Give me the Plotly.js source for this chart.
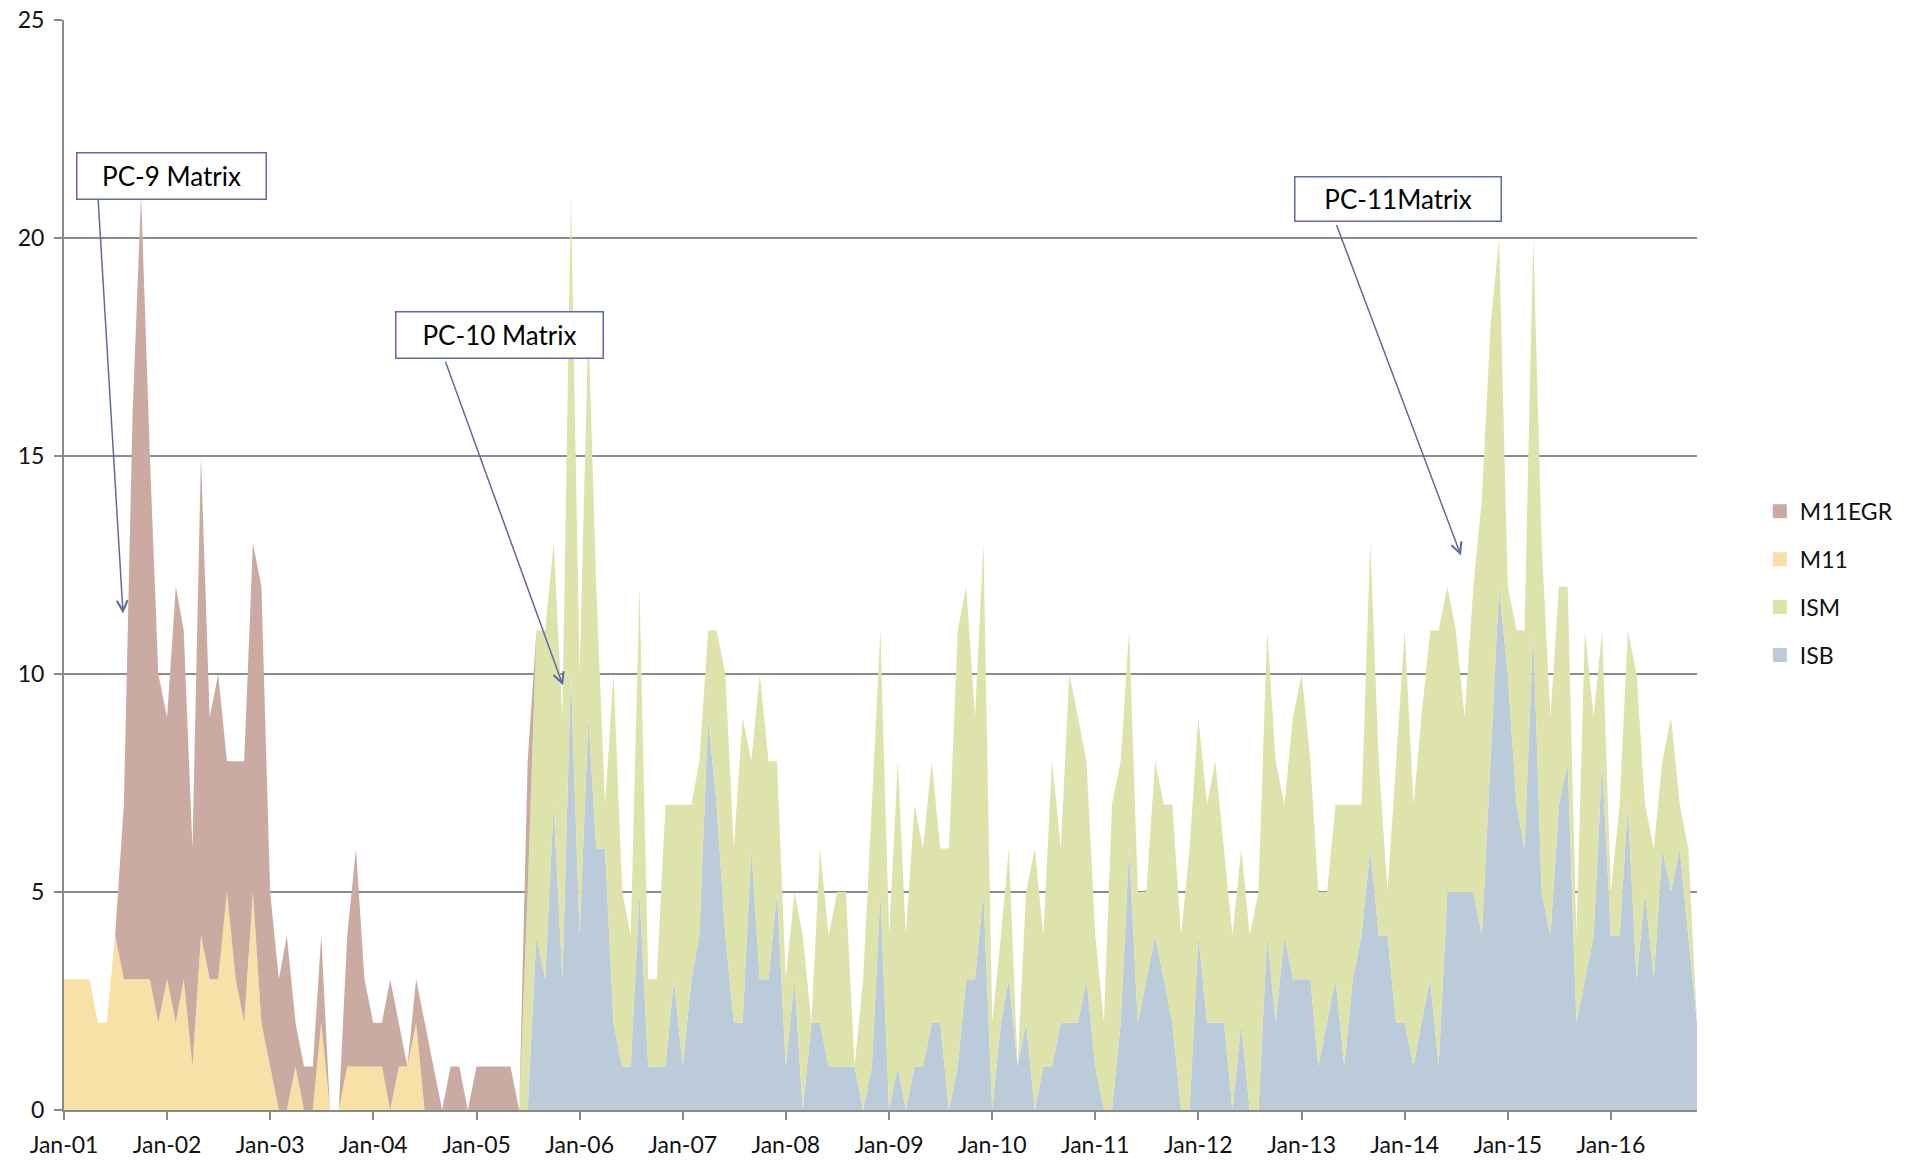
<!DOCTYPE html>
<html>
<head>
<meta charset="utf-8">
<script src="https://cdn.plot.ly/plotly-3.0.1.min.js"></script>
<style>
  html, body { margin: 0; padding: 0; background: #ffffff; }
  #chart { width: 1913px; height: 1161px; }
</style>
</head>
<body>
<div id="chart"></div>
<script>
// Monthly series, Jan-2001 .. Nov-2016 (191 months)
const startYear = 2001;
const monthCount = 191;

const M11 = [
  3,3,3,3,2,2,4,3,3,3, 3,2,3,2,3,1,4,3,3,5, 3,2,5,2,1,0,0,1,0,0,
  2,0,0,1,1,1,1,1,0,1, 1,2,0,0,0,0,0,0,0,0, 0,0,0,0,0,0,0,0,0,0,
  0,0,0,0,0,0,0,0,0,0, 0,0,0,0,0,0,0,0,0,0, 0,0,0,0,0,0,0,0,0,0,
  0,0,0,0,0,0,0,0,0,0, 0,0,0,0,0,0,0,0,0,0, 0,0,0,0,0,0,0,0,0,0,
  0,0,0,0,0,0,0,0,0,0, 0,0,0,0,0,0,0,0,0,0, 0,0,0,0,0,0,0,0,0,0,
  0,0,0,0,0,0,0,0,0,0, 0,0,0,0,0,0,0,0,0,0, 0,0,0,0,0,0,0,0,0,0,
  0,0,0,0,0,0,0,0,0,0, 0
];

const M11EGR = [
  0,0,0,0,0,0,0,4,13,18, 12,8,6,10,8,5,11,6,7,3, 5,6,8,10,4,3,4,1,1,1,
  2,0,0,3,5,2,1,1,3,1, 0,1,2,1,0,1,1,0,1,1, 1,1,1,0,3,0,0,0,0,0,
  0,0,0,0,0,0,0,0,0,0, 0,0,0,0,0,0,0,0,0,0, 0,0,0,0,0,0,0,0,0,0,
  0,0,0,0,0,0,0,0,0,0, 0,0,0,0,0,0,0,0,0,0, 0,0,0,0,0,0,0,0,0,0,
  0,0,0,0,0,0,0,0,0,0, 0,0,0,0,0,0,0,0,0,0, 0,0,0,0,0,0,0,0,0,0,
  0,0,0,0,0,0,0,0,0,0, 0,0,0,0,0,0,0,0,0,0, 0,0,0,0,0,0,0,0,0,0,
  0,0,0,0,0,0,0,0,0,0, 0
];

const ISB = [
  0,0,0,0,0,0,0,0,0,0, 0,0,0,0,0,0,0,0,0,0, 0,0,0,0,0,0,0,0,0,0,
  0,0,0,0,0,0,0,0,0,0, 0,0,0,0,0,0,0,0,0,0, 0,0,0,0,
  0,4,3,7,3,10,4,9,6,6,
  2,1,1,5,1,1,1,3,1,3,
  4,9,7,4,2,2,6,3,3,5,
  1,3,0,2,2,1,1,1,1,0,
  1,5,0,1,0,1,1,2,2,0,
  1,3,3,5,0,2,3,1,2,0,
  1,1,2,2,2,3,1,0,0,2,
  6,2,3,4,3,2,0,0,4,2,
  2,2,0,2,0,0,4,2,4,3,
  3,3,1,2,3,1,3,4,6,4,
  4,2,2,1,2,3,1,5,5,5,
  5,4,8,12,10,7,6,11,5,4,
  7,8,2,3,4,8,4,4,7,3,
  5,3,6,5,6,4,2
];

const ISM = [
  0,0,0,0,0,0,0,0,0,0, 0,0,0,0,0,0,0,0,0,0, 0,0,0,0,0,0,0,0,0,0,
  0,0,0,0,0,0,0,0,0,0, 0,0,0,0,0,0,0,0,0,0, 0,0,0,0,
  5,7,8,6,6,11,6,9,6,1,
  8,4,3,7,2,2,6,4,6,4,
  4,2,4,6,4,7,2,7,5,3,
  2,2,4,0,4,3,4,4,0,3,
  6,6,4,7,4,6,5,6,4,6,
  10,9,6,8,2,2,3,0,3,6,
  3,7,4,8,7,5,3,2,7,6,
  5,3,2,4,4,5,4,6,5,5,
  6,4,4,4,4,5,7,6,3,6,
  7,5,4,3,4,6,4,3,7,4,
  1,6,9,6,7,8,10,7,6,4,
  7,10,10,8,2,4,5,9,8,5,
  5,4,2,8,5,3,1,3,4,7,
  2,3,2,4,1,2,0
];

// month category axis
const months = [];
for (let i = 0; i < monthCount; i++) {
  const y = startYear + Math.floor(i / 12);
  const m = (i % 12) + 1;
  months.push(y + '-' + String(m).padStart(2, '0') + '-01');
}

const colors = {
  M11EGR: '#cbaaa2',
  M11: '#f9e0a6',
  ISM: '#dde3aa',
  ISB: '#bccbd9'
};

function area(name, vals) {
  return {
    type: 'scatter', mode: 'lines', name: name,
    x: months, y: vals,
    stackgroup: 'one',
    line: { width: 0, color: colors[name], shape: 'linear' },
    fillcolor: colors[name],
    showlegend: false,
    hoverinfo: 'x+y+name'
  };
}

function legendItem(name, grp) {
  return {
    type: 'scatter', mode: 'markers', name: name,
    x: [null], y: [null],
    marker: { symbol: 'square', size: 14, color: colors[name] },
    legendgroup: grp, showlegend: true
  };
}

const traces = [
  area('ISB', ISB),
  area('ISM', ISM),
  area('M11', M11),
  area('M11EGR', M11EGR),
  legendItem('M11EGR', 'a'),
  legendItem('M11', 'b'),
  legendItem('ISM', 'c'),
  legendItem('ISB', 'd')
];

const boxColor = '#5d6ba3';
const boxFont = { family: 'Lato, "Open Sans", sans-serif', size: 26, color: '#000000' };

function box(text, x, y, w, h) {
  return {
    xref: 'paper', yref: 'paper', x: x, y: y,
    xanchor: 'center', yanchor: 'middle',
    text: text, showarrow: false,
    width: w, height: h,
    bgcolor: '#ffffff', bordercolor: boxColor, borderwidth: 1.5, borderpad: 0,
    font: boxFont, align: 'center'
  };
}
function arrow(xd, yv, ax, ay) {
  return {
    xref: 'x', yref: 'y', x: xd, y: yv,
    ax: ax, ay: ay, text: '', showarrow: true,
    arrowhead: 5, arrowsize: 1.4, arrowwidth: 1.5, arrowcolor: boxColor,
    standoff: 0, startstandoff: 0
  };
}

const layout = {
  width: 1913, height: 1161,
  margin: { l: 64, r: 216, t: 20, b: 51, pad: 0 },
  paper_bgcolor: '#ffffff', plot_bgcolor: '#ffffff',
  font: { family: 'Lato, "Open Sans", sans-serif', size: 22, color: '#111111' },
  showlegend: true,
  xaxis: {
    type: 'date',
    range: ['2001-01-01', '2016-11-01'],
    tick0: '2001-01-01', dtick: 'M12', tickformat: '%b-%y',
    showgrid: false, zeroline: false,
    showline: true, linecolor: '#8a8a8a', linewidth: 2,
    ticks: 'outside', ticklen: 8, tickwidth: 2, tickcolor: '#8a8a8a',
    tickfont: { size: 23 }, ticklabelstandoff: 5, fixedrange: true
  },
  yaxis: {
    range: [0, 25], dtick: 5, tick0: 0,
    showgrid: true, gridcolor: '#8c8c8c', gridwidth: 1.5,
    zeroline: false,
    showline: true, linecolor: '#8a8a8a', linewidth: 2,
    ticks: 'outside', ticklen: 8, tickwidth: 2, tickcolor: '#8a8a8a',
    tickfont: { size: 23 }, ticklabelstandoff: 5, fixedrange: true
  },
  legend: {
    x: 1.0385, y: 0.569, xanchor: 'left', yanchor: 'top',
    traceorder: 'grouped', tracegroupgap: 15,
    font: { size: 23, color: '#111111' },
    bgcolor: 'rgba(0,0,0,0)', itemwidth: 30
  },
  annotations: [
    box('PC-9 Matrix', 0.0658, 0.8573, 188, 45),
    box('PC-10 Matrix', 0.2667, 0.7107, 206, 45),
    box('PC-11Matrix', 0.8169, 0.8354, 205, 43),
    arrow('2001-07-29', 11.39, -25, -416),
    arrow('2005-11-03', 9.74, -118, -325),
    arrow('2014-07-19', 12.72, -125, -332)
  ]
};

Plotly.newPlot('chart', traces, layout, { displayModeBar: false, staticPlot: true });
</script>
</body>
</html>
